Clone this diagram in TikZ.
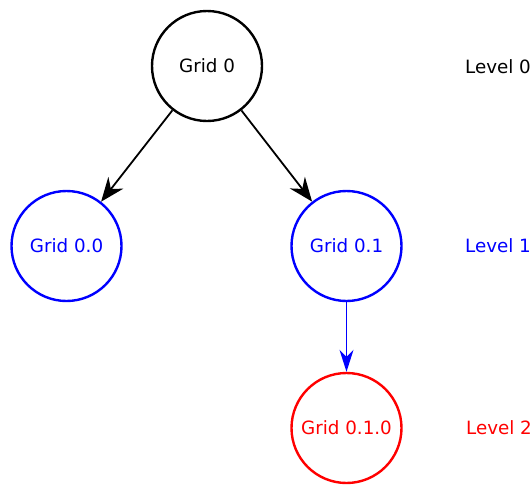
\documentclass[tikz,border=0pt]{standalone}
\usepackage{fontspec}
\setmainfont{DejaVu Sans}
\usetikzlibrary{arrows.meta}
\begin{document}
\begin{tikzpicture}[x=1pt,y=-1pt,
  every node/.style={font=\fontsize{18.3}{20}\selectfont},
  grid/.style={circle, draw, line width=2.4pt, minimum size=110pt, inner sep=0pt},
  lvl/.style={inner sep=0pt},
  blackarrow/.style={line width=1.8pt, -{Stealth[length=24pt,width=19pt,inset=8pt]}},
  bluearrow/.style={blue, line width=1.3pt, -{Stealth[length=22pt,width=14pt,inset=7pt]}}]
\useasboundingbox (0,0) rectangle (532,485);
\node[grid, black] (g0) at (207,66) {Grid 0};
\node[grid, blue, text=blue] (g00) at (66.5,246) {Grid 0.0};
\node[grid, blue, text=blue] (g01) at (346.5,246) {Grid 0.1};
\node[grid, red, text=red] (g010) at (346.5,428) {Grid 0.1.0};
\node[lvl] (l0) at (498,67) {Level 0};
\node[lvl, text=blue] (l1) at (498,246) {Level 1};
\node[lvl, text=red] (l2) at (499,428) {Level 2};
\draw[blackarrow] (g0) -- (g00);
\draw[blackarrow] (g0) -- (g01);
\draw[bluearrow] (g01) -- (g010);
\end{tikzpicture}
\end{document}
